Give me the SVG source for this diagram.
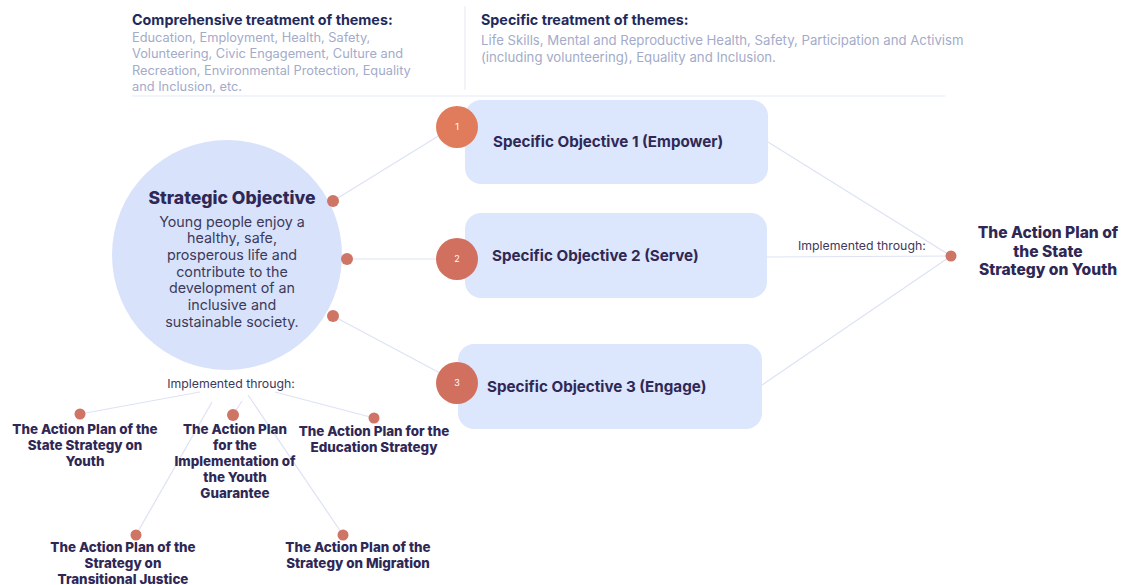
<svg xmlns="http://www.w3.org/2000/svg" width="1125" height="585" viewBox="0 0 1125 585">
<style>
.hd{font-family:Inter,"Liberation Sans",sans-serif;font-weight:700;font-size:14.3px;fill:#1e2a5c}
.bd{font-family:Inter,"Liberation Sans",sans-serif;font-size:12.8px;fill:#a3abc9}
.bd2{font-family:Inter,"Liberation Sans",sans-serif;font-size:13.2px;fill:#a3abc9}
.so{font-family:Inter,"Liberation Sans",sans-serif;font-weight:700;font-size:15.2px;fill:#2f2855}
.ap{font-family:Inter,"Liberation Sans",sans-serif;font-weight:800;font-size:13.4px;fill:#2f2855;text-anchor:middle}
.ap2{font-family:Inter,"Liberation Sans",sans-serif;font-weight:800;font-size:15.6px;fill:#2f2855;text-anchor:middle}
.it{font-family:Inter,"Liberation Sans",sans-serif;font-size:12.3px;fill:#3d3a5c}
.ln{stroke:#dde3f5;stroke-width:1.2;fill:none}
.dot{fill:#cf7565}
.box{fill:#dce6fc}
.num{font-family:Inter,"Liberation Sans",sans-serif;font-size:9px;fill:#ffffff;text-anchor:middle}
</style>
<rect width="1125" height="585" fill="#ffffff"/>
<g id="header">
<line x1="465" y1="6" x2="465" y2="90" stroke="#e8ecf6" stroke-width="1.2"/>
<line x1="132" y1="96" x2="945" y2="96" stroke="#e3e9f8" stroke-width="1.2"/>
<text class="hd" x="132" y="25">Comprehensive treatment of themes:</text>
<text class="bd" x="132" y="42">Education, Employment, Health, Safety,</text>
<text class="bd" x="132" y="58">Volunteering, Civic Engagement, Culture and</text>
<text class="bd" x="132" y="75">Recreation, Environmental Protection, Equality</text>
<text class="bd" x="132" y="91">and Inclusion, etc.</text>
<text class="hd" x="481" y="25">Specific treatment of themes:</text>
<text class="bd2" x="481" y="45">Life Skills, Mental and Reproductive Health, Safety, Participation and Activism</text>
<text class="bd2" x="481" y="62">(including volunteering), Equality and Inclusion.</text>
</g>
<g id="connectors">
<line class="ln" x1="333" y1="201" x2="440" y2="135"/>
<line class="ln" x1="347" y1="259" x2="436" y2="259"/>
<line class="ln" x1="333" y1="316" x2="440" y2="373"/>
<line class="ln" x1="768" y1="142" x2="951" y2="256"/>
<line class="ln" x1="767" y1="257" x2="951" y2="256"/>
<line class="ln" x1="762" y1="385" x2="951" y2="256"/>
<line class="ln" x1="200" y1="392" x2="80" y2="414"/>
<line class="ln" x1="212" y1="402" x2="136" y2="535"/>
<line class="ln" x1="242" y1="401" x2="233" y2="415"/>
<line class="ln" x1="248" y1="395" x2="343" y2="535"/>
<line class="ln" x1="275" y1="392" x2="374" y2="418"/>
</g>
<g id="strategic">
<circle cx="227" cy="255" r="115" fill="#d8e3fb"/>
<text x="232" y="204" font-family="Inter,'Liberation Sans',sans-serif" font-weight="800" font-size="17.6" fill="#2f2855" text-anchor="middle">Strategic Objective</text>
<g font-family="Inter,'Liberation Sans',sans-serif" font-size="14.3" fill="#3d3a5c" text-anchor="middle">
<text x="232" y="227">Young people enjoy a</text>
<text x="232" y="243">healthy, safe,</text>
<text x="232" y="260">prosperous life and</text>
<text x="232" y="277">contribute to the</text>
<text x="232" y="293">development of an</text>
<text x="232" y="310">inclusive and</text>
<text x="232" y="327">sustainable society.</text>
</g>
<circle class="dot" cx="333" cy="201" r="6"/>
<circle class="dot" cx="347" cy="259" r="6"/>
<circle class="dot" cx="333" cy="316" r="6"/>
</g>
<g id="so1">
<rect class="box" x="465" y="100" width="303" height="84" rx="16"/>
<circle cx="457" cy="127" r="21" fill="#e07b5c"/>
<text class="num" x="457" y="130">1</text>
<text class="so" x="493" y="147">Specific Objective 1 (Empower)</text>
</g>
<g id="so2">
<rect class="box" x="465" y="213" width="302" height="85" rx="16"/>
<circle cx="457" cy="259" r="21" fill="#d1705f"/>
<text class="num" x="457" y="262">2</text>
<text class="so" x="492" y="261">Specific Objective 2 (Serve)</text>
</g>
<g id="so3">
<rect class="box" x="458" y="344" width="304" height="85" rx="16"/>
<circle cx="457" cy="383" r="21" fill="#d1705f"/>
<text class="num" x="457" y="386">3</text>
<text class="so" x="487" y="392">Specific Objective 3 (Engage)</text>
</g>
<g id="right-plan">
<text class="it" x="798" y="250">Implemented through:</text>
<circle class="dot" cx="951" cy="256" r="5.5"/>
<text class="ap2" x="1048" y="238">The Action Plan of</text>
<text class="ap2" x="1048" y="257">the State</text>
<text class="ap2" x="1048" y="275">Strategy on Youth</text>
</g>
<g id="bottom-label">
<text class="it" x="231" y="388" text-anchor="middle">Implemented through:</text>
</g>
<g id="plan-youth">
<circle class="dot" cx="80" cy="414" r="5.5"/>
<text class="ap" x="85" y="434">The Action Plan of the</text>
<text class="ap" x="85" y="450">State Strategy on</text>
<text class="ap" x="85" y="466">Youth</text>
</g>
<g id="plan-guarantee">
<circle class="dot" cx="233" cy="415" r="6"/>
<text class="ap" x="235" y="434">The Action Plan</text>
<text class="ap" x="235" y="450">for the</text>
<text class="ap" x="235" y="466">Implementation of</text>
<text class="ap" x="235" y="482">the Youth</text>
<text class="ap" x="235" y="498">Guarantee</text>
</g>
<g id="plan-education">
<circle class="dot" cx="374" cy="418" r="5.5"/>
<text class="ap" x="374" y="436">The Action Plan for the</text>
<text class="ap" x="374" y="452">Education Strategy</text>
</g>
<g id="plan-justice">
<circle class="dot" cx="136" cy="535" r="5.5"/>
<text class="ap" x="123" y="552">The Action Plan of the</text>
<text class="ap" x="123" y="568">Strategy on</text>
<text class="ap" x="123" y="584">Transitional Justice</text>
</g>
<g id="plan-migration">
<circle class="dot" cx="343" cy="535" r="5.5"/>
<text class="ap" x="358" y="552">The Action Plan of the</text>
<text class="ap" x="358" y="568">Strategy on Migration</text>
</g>
</svg>
